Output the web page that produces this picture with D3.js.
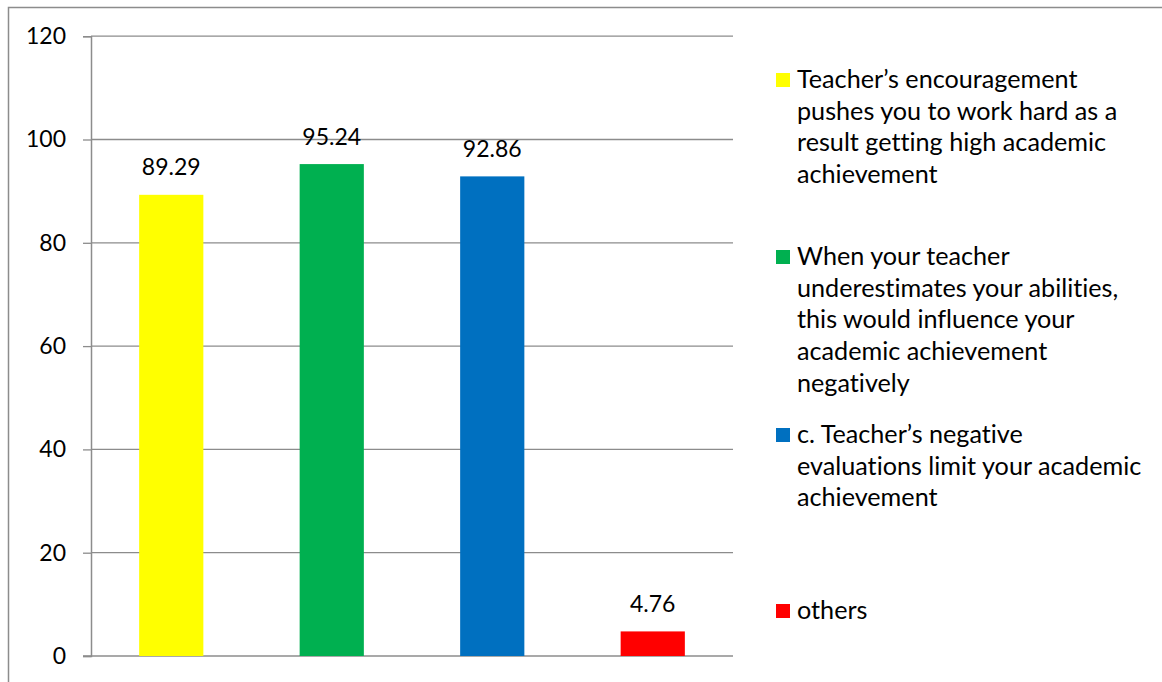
<!DOCTYPE html>
<html>
<head>
<meta charset="utf-8">
<script src="https://cdn.jsdelivr.net/npm/d3@7"></script>
<style>
  html, body { margin: 0; padding: 0; background: #fff; }
  svg { display: block; }
  text { font-variant-ligatures: none; font-feature-settings: "liga" 0; }
</style>
</head>
<body>
<svg id="chart" width="1162" height="682"></svg>
<script>
// ---- data ----
const categories = ["Teacher’s encouragement", "When your teacher underestimates", "c. Teacher’s negative evaluations", "others"];
const values = [89.29, 95.24, 92.86, 4.76];
const colors = ["#FFFF00", "#00B050", "#0070C0", "#FF0000"];
const yTicks = [0, 20, 40, 60, 80, 100, 120];
const legendLines = [
  ["Teacher’s encouragement", "pushes you to work hard as a", "result getting high academic", "achievement"],
  ["When your teacher", "underestimates your abilities,", "this would influence your", "academic achievement", "negatively"],
  ["c. Teacher’s negative", "evaluations limit your academic", "achievement"],
  ["others"]
];

// ---- layout ----
const font = "Lato, 'Liberation Sans', sans-serif";
const plot = { left: 91, right: 733, top: 36.2, bottom: 656 };
const svg = d3.select("#chart");

// outer frame
svg.append("rect")
  .attr("x", 8.5).attr("y", 7.5).attr("width", 1170).attr("height", 700)
  .attr("fill", "none").attr("stroke", "#8c8c8c").attr("stroke-width", 1.5);

const x = d3.scaleBand().domain(categories).range([plot.left, plot.right])
  .paddingInner(0.6).paddingOuter(0.3);
const y = d3.scaleLinear().domain([0, 120]).range([plot.bottom, plot.top]);

// gridlines
svg.append("g").selectAll("line").data(yTicks.filter(d => d > 0)).join("line")
  .attr("x1", plot.left).attr("x2", plot.right)
  .attr("y1", d => y(d)).attr("y2", d => y(d))
  .attr("stroke", "#8c8c8c").attr("stroke-width", 1.3);

// y axis
const yAxis = d3.axisLeft(y).tickValues(yTicks).tickSize(8).tickPadding(17).tickFormat(d3.format("d"));
const gy = svg.append("g").attr("transform", `translate(${plot.left},0)`).call(yAxis);
gy.select(".domain").attr("stroke", "#8c8c8c").attr("stroke-width", 1.5);
gy.selectAll(".tick line").attr("stroke", "#8c8c8c").attr("stroke-width", 1.3);
gy.selectAll(".tick text").attr("font-family", font).attr("font-size", 23).attr("fill", "#000");

// x baseline
svg.append("line")
  .attr("x1", plot.left - 8).attr("x2", plot.right)
  .attr("y1", y(0)).attr("y2", y(0))
  .attr("stroke", "#8c8c8c").attr("stroke-width", 1.5);

// bars
svg.append("g").selectAll("rect").data(values).join("rect")
  .attr("x", (d, i) => x(categories[i]))
  .attr("width", x.bandwidth())
  .attr("y", d => y(d))
  .attr("height", d => y(0) - y(d))
  .attr("fill", (d, i) => colors[i]);

// data labels
svg.append("g").selectAll("text").data(values).join("text")
  .attr("x", (d, i) => x(categories[i]) + x.bandwidth() / 2)
  .attr("y", d => y(d) - 19.5)
  .attr("text-anchor", "middle")
  .attr("font-family", font).attr("font-size", 23).attr("fill", "#000")
  .text(d => d3.format(".2f")(d));

// legend
const legendTop = [88, 265, 443, 619];
const lineH = 31.7;
const lg = svg.append("g");
legendLines.forEach((lines, i) => {
  lg.append("rect")
    .attr("x", 776).attr("y", legendTop[i] - 15)
    .attr("width", 14).attr("height", 14)
    .attr("fill", colors[i]);
  const t = lg.append("text")
    .attr("font-family", font).attr("font-size", 25.2).attr("fill", "#000");
  lines.forEach((ln, j) => {
    t.append("tspan").attr("x", 797).attr("y", legendTop[i] + j * lineH).text(ln);
  });
});
</script>
</body>
</html>
